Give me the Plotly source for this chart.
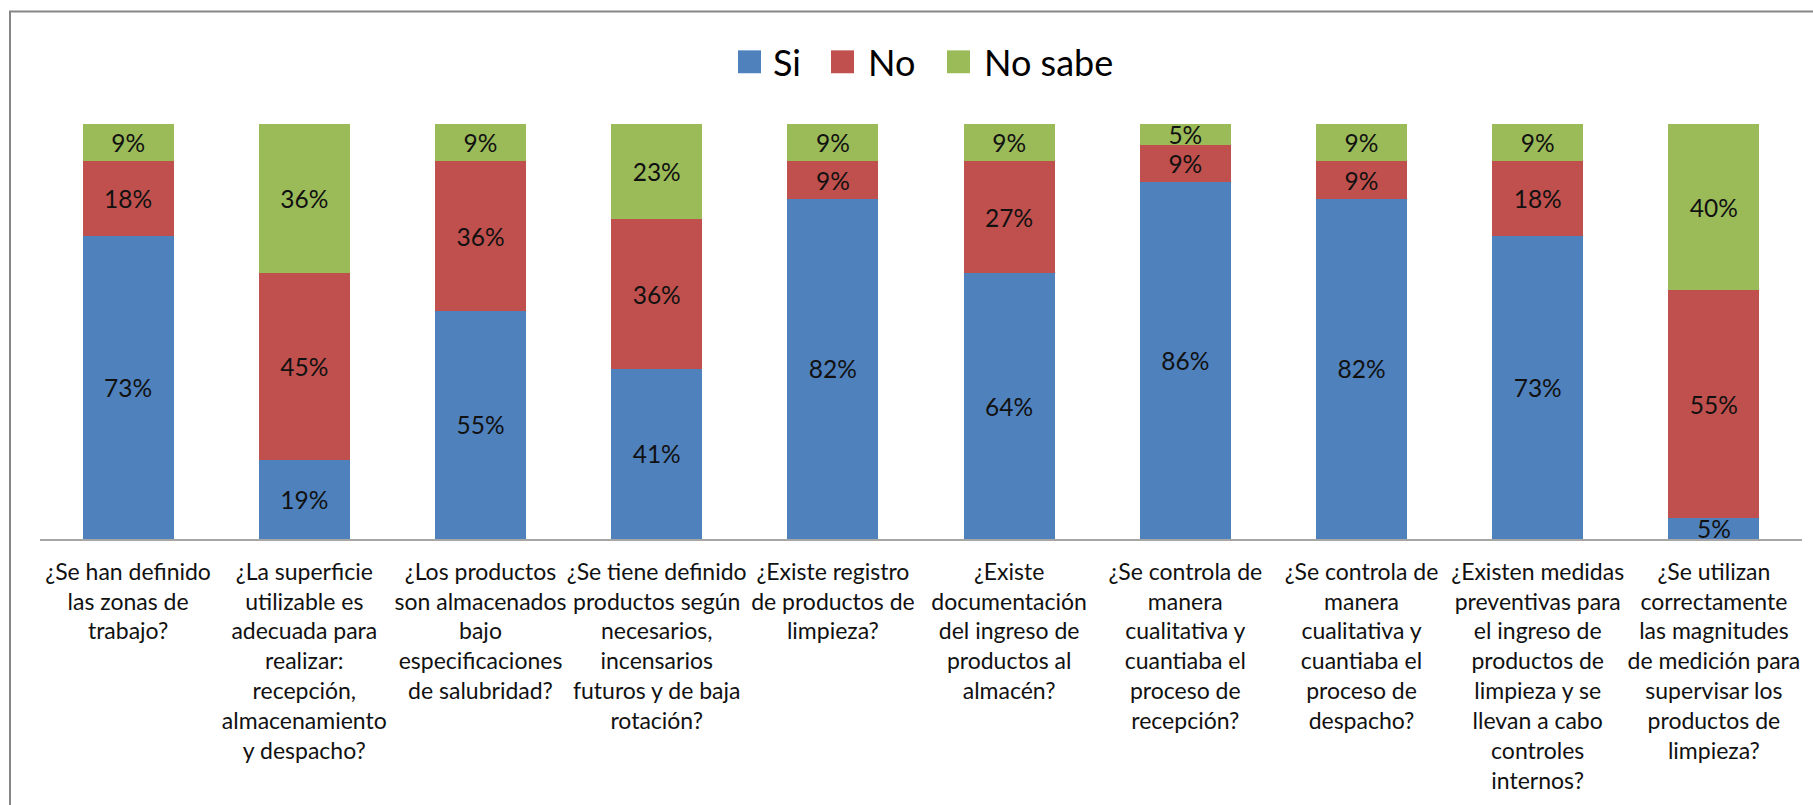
import plotly.graph_objects as go

# Survey questions (axis categories), line breaks as laid out under each bar
preguntas = [
    "¿Se han definido<br>las zonas de<br>trabajo?",
    "¿La superficie<br>utilizable es<br>adecuada para<br>realizar:<br>recepción,<br>almacenamiento<br>y despacho?",
    "¿Los productos<br>son almacenados<br>bajo<br>especificaciones<br>de salubridad?",
    "¿Se tiene definido<br>productos según<br>necesarios,<br>incensarios<br>futuros y de baja<br>rotación?",
    "¿Existe registro<br>de productos de<br>limpieza?",
    "¿Existe<br>documentación<br>del ingreso de<br>productos al<br>almacén?",
    "¿Se controla de<br>manera<br>cualitativa y<br>cuantiaba el<br>proceso de<br>recepción?",
    "¿Se controla de<br>manera<br>cualitativa y<br>cuantiaba el<br>proceso de<br>despacho?",
    "¿Existen medidas<br>preventivas para<br>el ingreso de<br>productos de<br>limpieza y se<br>llevan a cabo<br>controles<br>internos?",
    "¿Se utilizan<br>correctamente<br>las magnitudes<br>de medición para<br>supervisar los<br>productos de<br>limpieza?",
]

# Answer shares in percent
si = [73, 19, 55, 41, 82, 64, 86, 82, 73, 5]
no = [18, 45, 36, 36, 9, 27, 9, 9, 18, 55]
no_sabe = [9, 36, 9, 23, 9, 9, 5, 9, 9, 40]

series_names = ["Si", "No", "No sabe"]
series_colors = ["#4F81BD", "#C0504D", "#9BBB59"]

W, H = 1813, 805
M_L, M_R, M_T, M_B = 40, 11, 124, 264
FONT = "Lato"

fig = go.Figure()
for name, vals, color in zip(series_names, [si, no, no_sabe], series_colors):
    fig.add_trace(go.Bar(
        x=preguntas,
        y=vals,
        name=name,
        marker=dict(color=color, line=dict(width=0)),
        texttemplate="%{y}%",
        textposition="inside",
        insidetextanchor="middle",
        constraintext="none",
        textfont=dict(family=FONT, size=24.5, color="#111111"),
        showlegend=False,
        hoverinfo="skip",
    ))

# pixel -> paper helpers for the header legend and the frame
plot_w = W - M_L - M_R
plot_h = H - M_T - M_B


def px_x(px):
    return (px - M_L) / plot_w


def px_y(py):
    return (H - M_B - py) / plot_h


shapes = []
annotations = []

# legend row: coloured square followed by its label
legend_items = [(738, 771), (831, 866), (947, 982)]
for (sq_x, txt_x), name, color in zip(legend_items, series_names, series_colors):
    shapes.append(dict(
        type="rect", xref="paper", yref="paper",
        x0=px_x(sq_x), x1=px_x(sq_x + 23),
        y0=px_y(73), y1=px_y(50),
        fillcolor=color, line=dict(width=0),
    ))
    annotations.append(dict(
        xref="paper", yref="paper",
        x=px_x(txt_x), y=px_y(62),
        xanchor="left", yanchor="middle",
        text=name, showarrow=False,
        font=dict(family=FONT, size=36, color="#000000"),
    ))

# outer chart frame
shapes.append(dict(
    type="rect", xref="paper", yref="paper",
    x0=px_x(10), x1=px_x(W + 30),
    y0=px_y(H + 30), y1=px_y(11),
    line=dict(color="#868686", width=2),
    fillcolor="rgba(0,0,0,0)",
    layer="below",
))

fig.update_layout(
    barmode="stack",
    bargap=0.484,
    width=W,
    height=H,
    margin=dict(l=M_L, r=M_R, t=M_T, b=M_B, pad=0),
    paper_bgcolor="white",
    plot_bgcolor="white",
    font=dict(family=FONT, color="#111111"),
    shapes=shapes,
    annotations=annotations,
    xaxis=dict(
        showline=True,
        linecolor="#A6A6A6",
        linewidth=2,
        showgrid=False,
        ticks="outside",
        ticklen=11,
        tickcolor="rgba(0,0,0,0)",
        tickangle=0,
        tickfont=dict(family=FONT, size=23, color="#111111"),
    ),
    yaxis=dict(
        range=[0, 100],
        visible=False,
        showgrid=False,
        zeroline=False,
    ),
)

fig.write_html("out.html")
